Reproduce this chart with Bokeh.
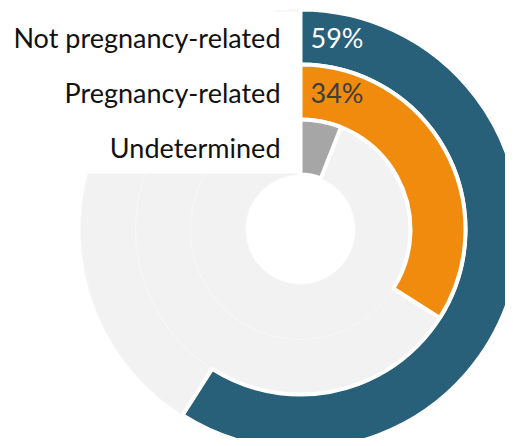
from bokeh.plotting import figure
from bokeh.models import ColumnDataSource
from bokeh.core.properties import value
from bokeh.embed import file_html
from bokeh.resources import INLINE
import math

categories = ["Not pregnancy-related", "Pregnancy-related", "Undetermined"]
values = [59, 34, 6]
pct_labels = ["59%", "34%", ""]
colors = ["#28607a", "#f08b0e", "#a6a6a6"]
pct_colors = ["#ffffff", "#3d3d3d", "#ffffff"]

W, H = 505, 438
cx, cy = 300, 229  # centre in figure pixels from top-left
ring_w = 55
hole = 55

p = figure(width=W, height=H, output_backend="svg", toolbar_location=None,
           x_range=(-cx, W - cx), y_range=(-(H - cy), cy),
           min_border=0, outline_line_color=None)
p.axis.visible = False
p.grid.visible = False
p.background_fill_color = "white"
p.border_fill_color = "white"

n = len(categories)
inner = [hole + (n - 1 - i) * ring_w for i in range(n)]
outer = [r + ring_w for r in inner]
mid = [(a + b) / 2 for a, b in zip(inner, outer)]
start = [math.pi / 2] * n
end = [math.pi / 2 - v / 100 * 2 * math.pi for v in values]

src = ColumnDataSource(dict(cat=categories, val=values, inner=inner, outer=outer,
                            mid=mid, start=start, end=end, color=colors,
                            pct=pct_labels, pct_color=pct_colors,
                            zero=[0] * n, lx=[-20] * n, px=[10] * n))

# tracks
p.annulus(x="zero", y="zero", inner_radius="inner", outer_radius="outer", source=src,
          fill_color="#f2f2f2", line_color="#f7f7f7", line_width=1)
# bars
p.annular_wedge(x="zero", y="zero", inner_radius="inner", outer_radius="outer",
                start_angle="start", end_angle="end", direction="clock", source=src,
                fill_color="color", line_color="white", line_width=4)
# white label panel
p.quad(left=-cx, right=0, bottom=inner[-1] + 1, top=outer[0] - 2,
       fill_color="white", line_color=None)

p.text(x="lx", y="mid", text="cat", source=src, text_align="right",
       text_baseline="middle", text_font=value("Lato"), text_font_size="27px",
       text_color="#111111")
p.text(x="px", y="mid", text="pct", source=src, text_align="left",
       text_baseline="middle", text_font=value("Lato"), text_font_size="27px",
       text_color="pct_color")

open("out.html", "w").write(file_html(p, INLINE))
